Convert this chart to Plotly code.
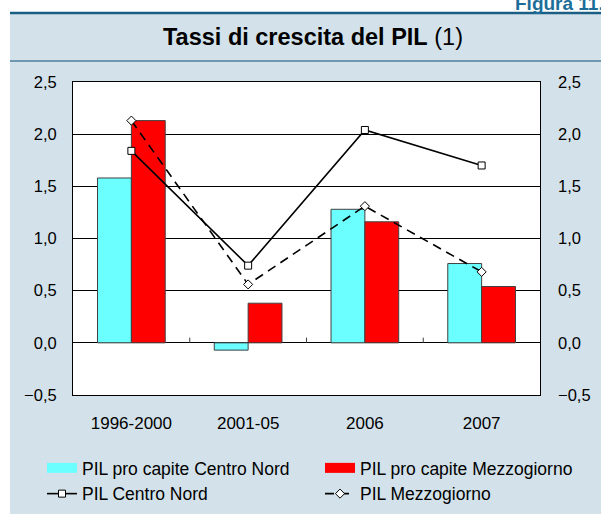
import plotly.graph_objects as go

# ------------------------------------------------------------------
# Data
# ------------------------------------------------------------------
periods = ["1996-2000", "2001-05", "2006", "2007"]
pil_pc_centro_nord = [1.58, -0.07, 1.28, 0.76]
pil_pc_mezzogiorno = [2.13, 0.38, 1.16, 0.54]
pil_centro_nord = [1.84, 0.74, 2.04, 1.70]
pil_mezzogiorno = [2.13, 0.56, 1.31, 0.68]
y_ticks = [-0.5, 0.0, 0.5, 1.0, 1.5, 2.0, 2.5]

# ------------------------------------------------------------------
# Layout helpers (pixel -> paper coordinates)
# ------------------------------------------------------------------
W, H = 601, 514
L, R, T, B = 73, 61, 82, 119
PW, PH = W - L - R, H - T - B
PANEL = "#D3E2EA"
CYAN, RED, EDGE = "#6CFFFF", "#FF0000", "#404040"
FONT = "Liberation Sans, Arial, Helvetica, sans-serif"


def px(x):
    return (x - L) / PW


def py(y):
    return (H - B - y) / PH


# ------------------------------------------------------------------
# Plot
# ------------------------------------------------------------------
fig = go.Figure()

fig.add_trace(go.Bar(x=periods, y=pil_pc_centro_nord, showlegend=False,
                     name="PIL pro capite Centro Nord",
                     marker=dict(color=CYAN, line=dict(color=EDGE, width=1))))
fig.add_trace(go.Bar(x=periods, y=pil_pc_mezzogiorno, showlegend=False,
                     name="PIL pro capite Mezzogiorno",
                     marker=dict(color=RED, line=dict(color=EDGE, width=1))))
# legend-only entries giving the wide rectangular swatches of the bars
fig.add_trace(go.Scatter(x=[None], y=[None], mode="lines", legend="legend",
                         name="PIL pro capite Centro Nord",
                         line=dict(color=CYAN, width=10)))
fig.add_trace(go.Scatter(x=[None], y=[None], mode="lines", legend="legend2",
                         name="PIL pro capite Mezzogiorno",
                         line=dict(color=RED, width=10)))
fig.add_trace(go.Scatter(x=periods, y=pil_centro_nord, mode="lines+markers",
                         name="PIL Centro Nord", legend="legend",
                         line=dict(color="black", width=1.6),
                         marker=dict(symbol="square", size=7, color="white",
                                     line=dict(color="black", width=1))))
fig.add_trace(go.Scatter(x=periods, y=pil_mezzogiorno, mode="lines+markers",
                         name="PIL Mezzogiorno", legend="legend2",
                         line=dict(color="black", width=1.6, dash="9px,6px"),
                         marker=dict(symbol="diamond", size=7, color="white",
                                     line=dict(color="black", width=1))))
# invisible trace to carry the right-hand axis
fig.add_trace(go.Scatter(x=periods, y=pil_centro_nord, yaxis="y2",
                         mode="none", showlegend=False, hoverinfo="skip"))

axis_common = dict(range=[-0.5, 2.5], tickvals=y_ticks, tickformat=".1f",
                   tickfont=dict(size=16.5, color="black", family=FONT))
legend_common = dict(orientation="v", xanchor="left", y=py(450), yanchor="top",
                     bgcolor="rgba(0,0,0,0)", font=dict(size=17.5, color="black"),
                     traceorder="normal", itemclick=False, itemdoubleclick=False)

fig.update_layout(
    width=W, height=H,
    margin=dict(l=L, r=R, t=T, b=B, autoexpand=False),
    paper_bgcolor=PANEL,
    plot_bgcolor="white",
    separators=",.",
    font=dict(family=FONT, color="black"),
    barmode="group",
    bargap=0.42,
    bargroupgap=0,
    xaxis=dict(showgrid=False, showline=True, linecolor="black", linewidth=1,
               mirror=True, ticks="", tickfont=dict(size=17, color="black"),
               ticklabelstandoff=13),
    yaxis=dict(**axis_common, ticklabelstandoff=12,
               showgrid=True, gridcolor="black", gridwidth=1,
               zeroline=True, zerolinecolor="black", zerolinewidth=1,
               showline=True, linecolor="black", linewidth=1, mirror=True),
    yaxis2=dict(**axis_common, ticklabelstandoff=17, overlaying="y", side="right",
                showgrid=False, zeroline=False, showline=False),
    legend=dict(**legend_common, x=px(42)),
    legend2=dict(**legend_common, x=px(320)),
    showlegend=True,
)

shapes = [
    # white strip above panel
    dict(type="rect", xref="paper", yref="paper", x0=px(-5), x1=px(W + 5),
         y0=py(13), y1=py(-5), fillcolor="white", line_width=0, layer="below"),
    # white strip left of panel
    dict(type="rect", xref="paper", yref="paper", x0=px(-5), x1=px(10),
         y0=py(H + 5), y1=py(-5), fillcolor="white", line_width=0, layer="below"),
    # header rule
    dict(type="line", xref="paper", yref="paper", x0=px(10), x1=px(W + 5),
         y0=py(13), y1=py(13), line=dict(color="#1B5E83", width=2.5)),
    # rule under title
    dict(type="line", xref="paper", yref="paper", x0=px(10), x1=px(W + 5),
         y0=py(61), y1=py(61), line=dict(color="#4F7E9C", width=1.5)),
]
# small category ticks on the zero line
for i in range(1, len(periods)):
    shapes.append(dict(type="line", xref="x", yref="y", x0=i - 0.5, x1=i - 0.5,
                       y0=0, y1=0.05, line=dict(color=EDGE, width=1)))
fig.update_layout(shapes=shapes)

fig.add_annotation(x=px(313), y=py(37.5), xref="paper", yref="paper",
                   text="<b>Tassi di crescita del PIL</b> (1)", showarrow=False,
                   xanchor="center", yanchor="middle",
                   font=dict(size=23.5, color="black", family=FONT))
fig.add_annotation(x=px(606), y=py(16), xref="paper", yref="paper",
                   text="<b>Figura 11.</b>", showarrow=False,
                   xanchor="right", yanchor="bottom",
                   font=dict(size=19, color="#1C6E99", family=FONT))

fig.write_html("out.html",
               config={"displayModeBar": False},
               post_script="document.body.style.margin='0';"
                           "document.body.style.overflow='hidden';")
